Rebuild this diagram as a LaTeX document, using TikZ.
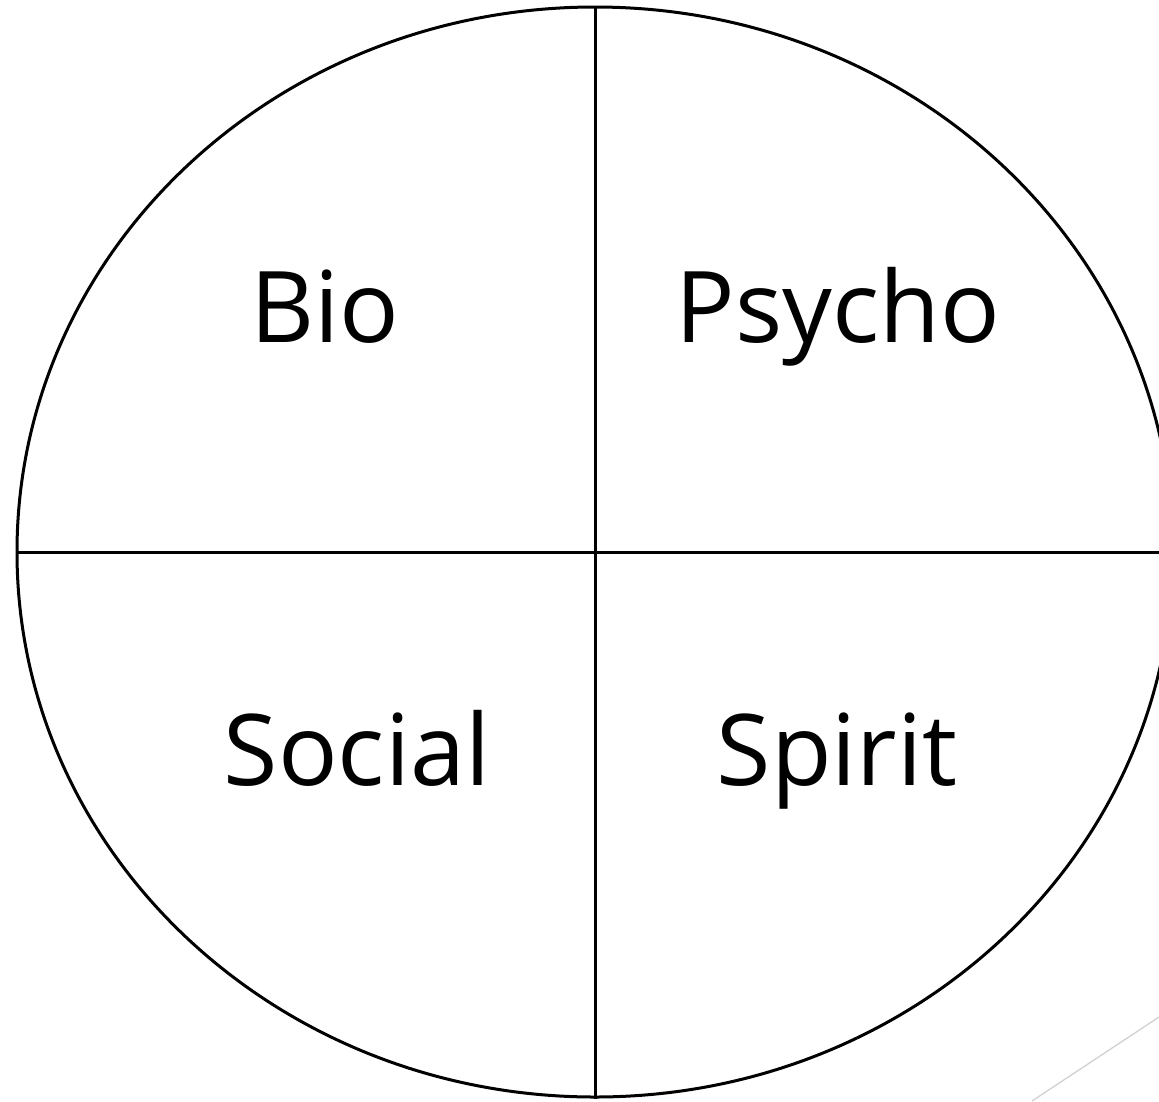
\documentclass[tikz,border=0pt]{standalone}
\usepackage{fontspec}
\setmainfont{Open Sans}
\usepackage{tikz}
\usetikzlibrary{shapes.geometric, positioning, calc}

\begin{document}
\begin{tikzpicture}[
    x=1pt, y=1pt,
    ring/.style={draw=black, line width=3pt, ellipse, inner sep=0pt, minimum width=1156pt, minimum height=1090pt},
    divider/.style={draw=black, line width=3pt},
    quadlabel/.style={font=\fontsize{99}{112}\selectfont, anchor=base, inner sep=0pt},
    faint/.style={draw=black!18, line width=1.3pt}
]
\useasboundingbox (0,0) rectangle (1159,-1101);
\clip (0,0) rectangle (1159,-1101);

% Outer ring and the two dividers
\node[ring] (ring) at (595,-552) {};
\draw[divider] (ring.north) -- (ring.south);
\draw[divider] (ring.west) -- (ring.east);

% Quadrant labels
\node[quadlabel] (bio) at (325,-342) {Bio};
\node[quadlabel] (psycho) at (838,-342) {Psycho};
\node[quadlabel] (social) at (357,-785) {Social};
\node[quadlabel] (spirit) at (837,-785) {Spirit};

% Faint stroke at bottom right
\coordinate (faintA) at (1159,-1017);
\coordinate (faintB) at (1032,-1101);
\draw[faint] (faintA) -- (faintB);

\end{tikzpicture}
\end{document}
